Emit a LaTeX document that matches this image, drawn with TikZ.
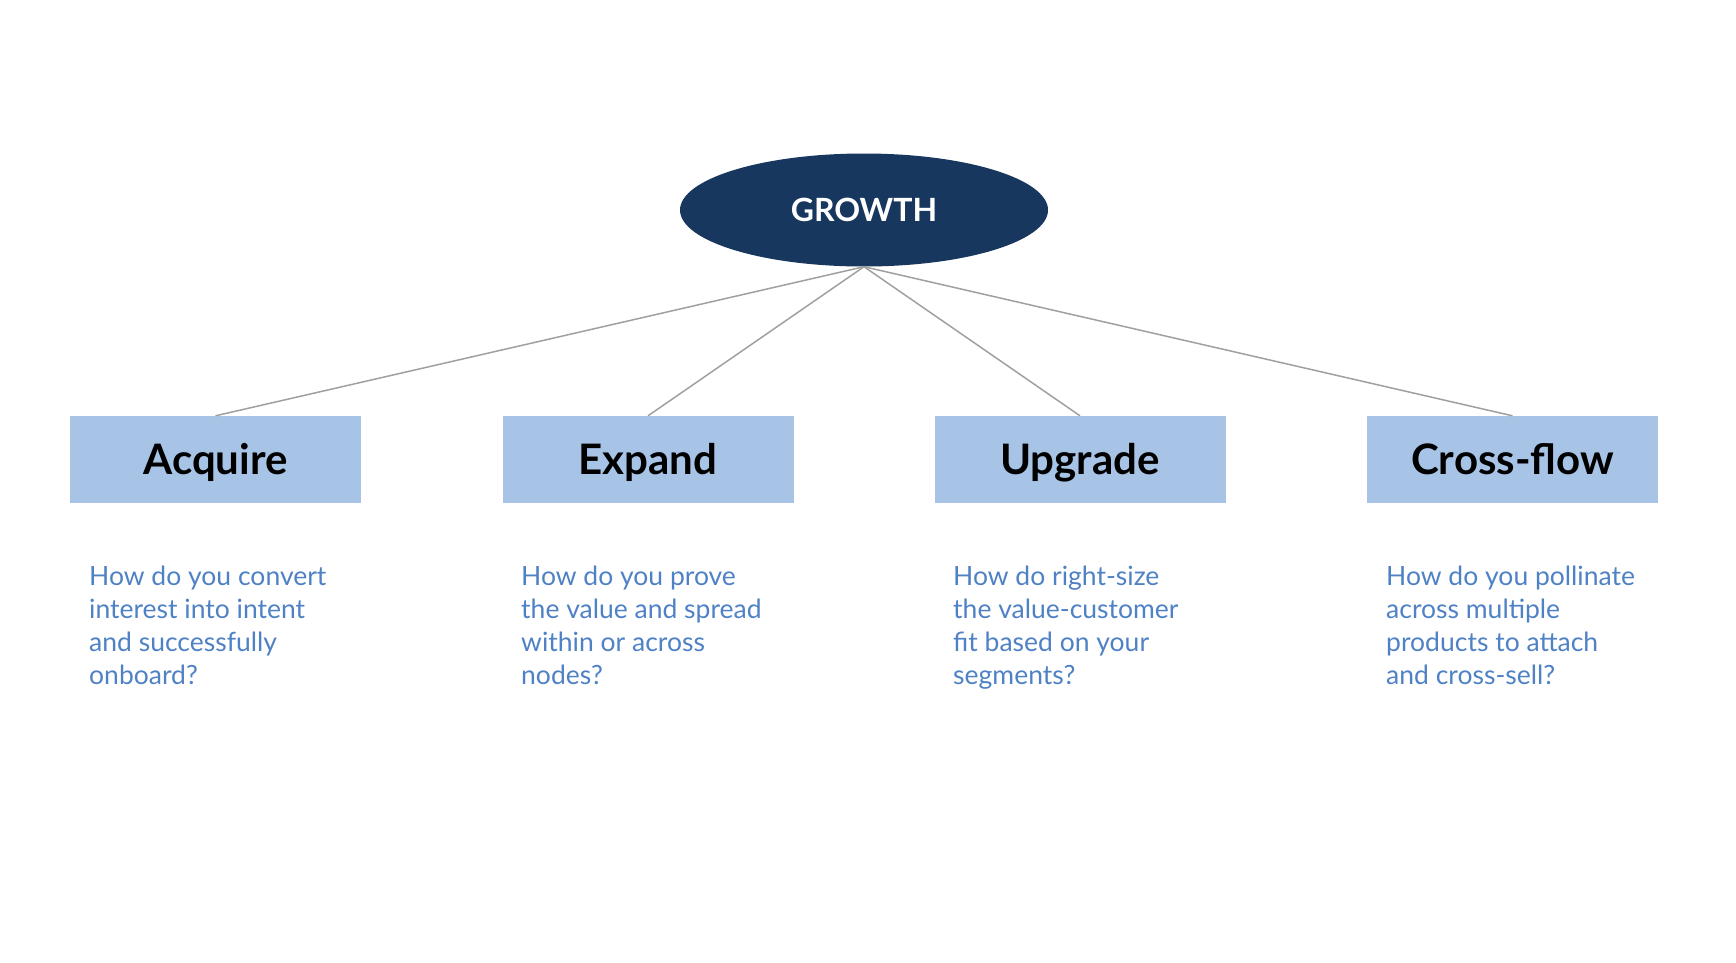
\documentclass[tikz,border=0pt]{standalone}
\usepackage{fontspec}
\setmainfont{Lato}
\usetikzlibrary{shapes.geometric}
\definecolor{navy}{HTML}{17375E}
\definecolor{boxblue}{HTML}{A7C4E6}
\definecolor{descblue}{HTML}{4F81C5}
\definecolor{linegray}{HTML}{A0A0A0}
\tikzset{
  hub/.style={ellipse, fill=navy, draw=none, minimum width=368pt, minimum height=113pt, inner sep=0pt,
    text=white, font=\fontsize{32}{36}\selectfont\bfseries},
  catbox/.style={rectangle, fill=boxblue, draw=none, minimum width=291pt, minimum height=87pt, inner sep=0pt,
    text=black, text height=36pt, text depth=7pt, font=\fontsize{42}{46}\selectfont\bfseries},
  desc/.style={anchor=base west, inner sep=0pt, align=left, text=descblue,
    font=\fontsize{26.5}{33}\selectfont},
  spoke/.style={draw=linegray, line width=1.5pt},
}
\begin{document}
\begin{tikzpicture}[x=1pt,y=-1pt]
\useasboundingbox (0,0) rectangle (1736,962);
\node[hub] (g) at (864,210) {GROWTH};
\node[catbox] (a) at (215.5,459.5) {Acquire};
\node[catbox] (e) at (648,459.5) {Expand};
\node[catbox] (u) at (1080,459.5) {Upgrade};
\node[catbox] (c) at (1512.5,459.5) {Cross-flow};
\draw[spoke] (g.south) -- (a.north);
\draw[spoke] (g.south) -- (e.north);
\draw[spoke] (g.south) -- (u.north);
\draw[spoke] (g.south) -- (c.north);
\node[desc] (da) at (89,684) {How do you convert\\interest into intent\\and successfully\\onboard?};
\node[desc] (de) at (521,684) {How do you prove\\the value and spread\\within or across\\nodes?};
\node[desc] (du) at (953,684) {How do right-size\\the value-customer\\fit based on your\\segments?};
\node[desc] (dc) at (1386,684) {How do you pollinate\\across multiple\\products to attach\\and cross-sell?};
\end{tikzpicture}
\end{document}
